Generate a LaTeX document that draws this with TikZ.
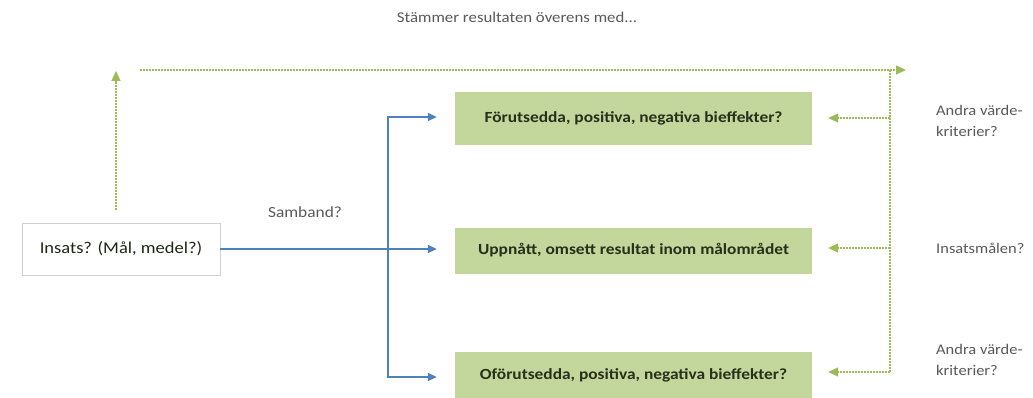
\documentclass[tikz,border=0pt]{standalone}
\usepackage{fontspec}
\setmainfont{Carlito}[FakeStretch=1.12]
\usetikzlibrary{arrows.meta}
\definecolor{boxgreen}{HTML}{C3D69B}
\definecolor{linegreen}{HTML}{9BBB59}
\definecolor{arrowblue}{HTML}{4F81BD}
\definecolor{framegray}{HTML}{D0D0D0}
\definecolor{labelgray}{HTML}{595959}
\definecolor{boxtext}{HTML}{26301A}
\begin{document}
\begin{tikzpicture}[x=1pt,y=-1pt,
  resultbox/.style={fill=boxgreen, minimum width=357pt, inner sep=0pt,
    font=\fontsize{15.5}{18}\selectfont\bfseries, text=boxtext},
  sourcebox/.style={draw=framegray, line width=0.8pt, minimum width=198pt,
    minimum height=52pt, inner sep=0pt, font=\fontsize{16.5}{18}\selectfont, text=boxtext!80!black},
  sidelabel/.style={anchor=west, inner sep=0pt, text=labelgray,
    font=\fontsize{14.7}{21}\selectfont},
  plainlabel/.style={text=labelgray, inner sep=0pt},
  bluearrow/.style={draw=arrowblue, line width=1.4pt,
    -{Triangle[length=9pt,width=8pt]}},
  greenarrow/.style={draw=linegreen, line width=1.2pt, dash pattern=on 2pt off 1pt,
    -{Triangle[length=10pt,width=9pt]}},
  greenline/.style={draw=linegreen, line width=1.2pt, dash pattern=on 2pt off 1pt}
]
\useasboundingbox (0,0) rectangle (1033,398);

% heading
\node[plainlabel, font=\fontsize{15}{16}\selectfont] (head) at (517,17)
  {Stämmer resultaten överens med...};

% intervention and result boxes
\node[sourcebox] (insats) at (121,249) {Insats? (Mål, medel?)};
\node[resultbox, minimum height=53pt] (b1) at (633.5,118.5)
  {Förutsedda, positiva, negativa bieffekter?};
\node[resultbox, minimum height=46pt] (b2) at (633.5,250.5)
  {Uppnått, omsett resultat inom målområdet};
\node[resultbox, minimum height=46pt] (b3) at (633.5,375)
  {Oförutsedda, positiva, negativa bieffekter?};

% labels
\node[plainlabel, font=\fontsize{15.5}{16}\selectfont] (samband) at (305,212) {Samband?};
\node[sidelabel] (crit1) at (936,122)
  {\begin{tabular}{@{}l@{}}Andra värde-\\kriterier?\end{tabular}};
\node[sidelabel] (goal) at (936,248) {Insatsmålen?};
\node[sidelabel] (crit2) at (936,361)
  {\begin{tabular}{@{}l@{}}Andra värde-\\kriterier?\end{tabular}};

% blue causal links
\coordinate (split) at (388,249);
\draw[bluearrow, shorten >=18pt] (insats.east) -- (b2.west |- insats.east);
\draw[bluearrow, shorten >=18pt] (split) |- (b1.west |- 0,117);
\draw[bluearrow, shorten >=18pt] (split) |- (b3.west |- 0,377);

% green comparison links
\coordinate (upstart) at (116,210);
\coordinate (uptip) at (116,71);
\draw[greenarrow] (upstart) -- (uptip);
\coordinate (topstart) at (140,70);
\coordinate (toptip) at (906,70);
\draw[greenarrow] (topstart) -- (toptip);
\coordinate (rtop) at (890,70);
\coordinate (r1) at (890,118);
\coordinate (r2) at (890,248);
\coordinate (r3) at (890,372);
\draw[greenline] (rtop) -- (r3);
\draw[greenarrow, shorten >=16pt] (r1) -- (b1.east |- r1);
\draw[greenarrow, shorten >=16pt] (r2) -- (b2.east |- r2);
\draw[greenarrow, shorten >=16pt] (r3) -- (b3.east |- r3);
\end{tikzpicture}
\end{document}
